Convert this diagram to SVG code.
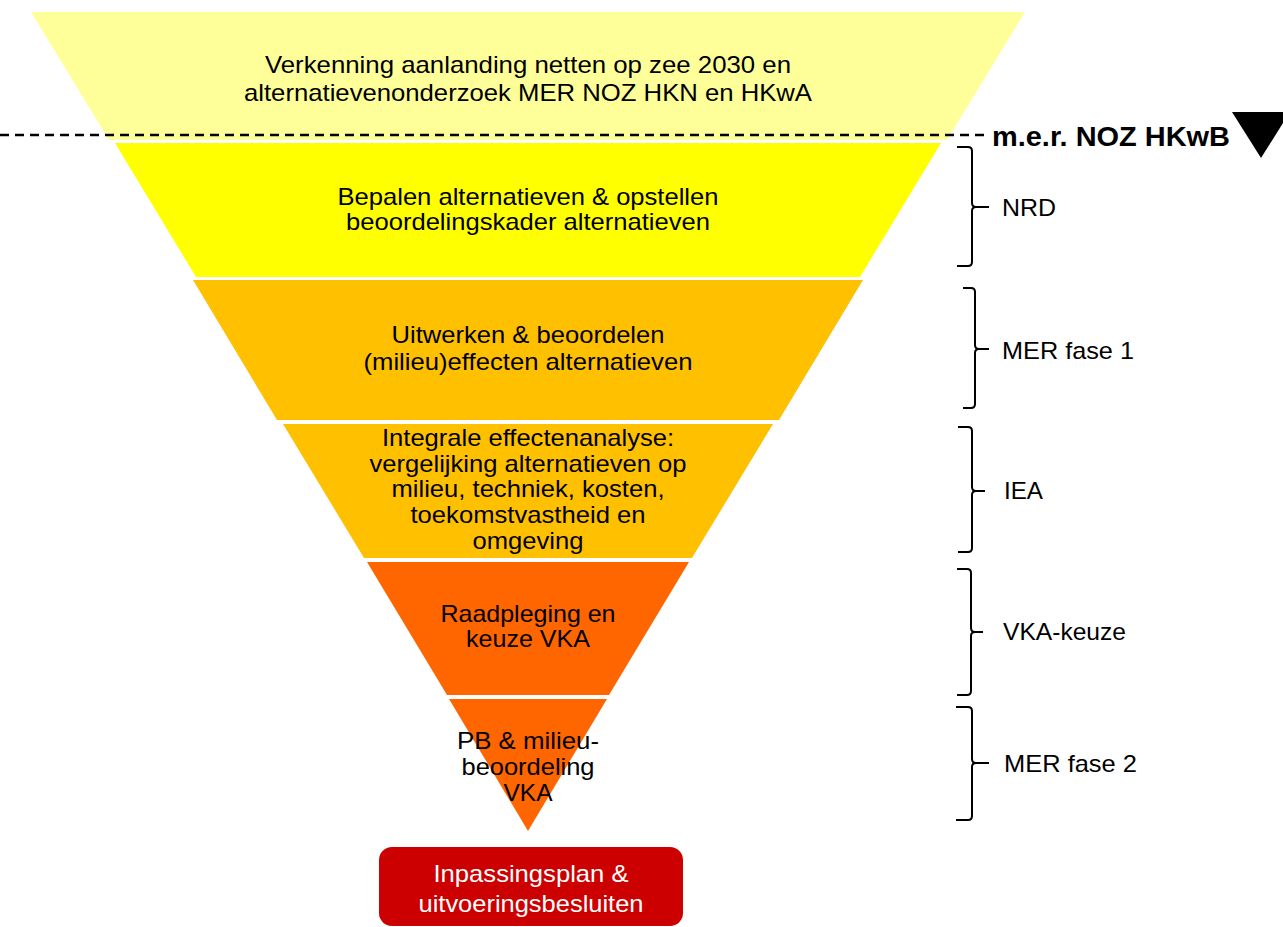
<svg xmlns="http://www.w3.org/2000/svg" width="1283" height="927" viewBox="0 0 1283 927">
<style>
.t{font-family:"Liberation Sans",Arial,sans-serif;font-size:24px;fill:#000;text-anchor:middle}
.l{font-family:"Liberation Sans",Arial,sans-serif;font-size:24px;fill:#000}
.w{font-family:"Liberation Sans",Arial,sans-serif;font-size:24px;fill:#fff;text-anchor:middle}
.b{fill:none;stroke:#000;stroke-width:2}
</style>
<rect width="1283" height="927" fill="#fff"/>
<g id="band-verkenning">
<polygon points="31,12 1025,12 947,140 109,140" fill="#FFFF99"/>
<text class="t" x="528" y="73" textLength="526" lengthAdjust="spacingAndGlyphs">Verkenning aanlanding netten op zee 2030 en</text>
<text class="t" x="528" y="101" textLength="568" lengthAdjust="spacingAndGlyphs">alternatievenonderzoek MER NOZ HKN en HKwA</text>
</g>
<g id="band-nrd">
<polygon points="115,143 941,143 860,277 196,277" fill="#FFFF00"/>
<text class="t" x="528" y="205" textLength="381" lengthAdjust="spacingAndGlyphs">Bepalen alternatieven &amp; opstellen</text>
<text class="t" x="528" y="230" textLength="364" lengthAdjust="spacingAndGlyphs">beoordelingskader alternatieven</text>
</g>
<g id="band-mer1">
<polygon points="193,280 863,280 779,420 277,420" fill="#FFC000"/>
<text class="t" x="528" y="343" textLength="273" lengthAdjust="spacingAndGlyphs">Uitwerken &amp; beoordelen</text>
<text class="t" x="528" y="370" textLength="329" lengthAdjust="spacingAndGlyphs">(milieu)effecten alternatieven</text>
</g>
<g id="band-iea">
<polygon points="283,424 773,424 692,558 364,558" fill="#FFC000"/>
<text class="t" x="528" y="446" textLength="292" lengthAdjust="spacingAndGlyphs">Integrale effectenanalyse:</text>
<text class="t" x="528" y="472" textLength="317" lengthAdjust="spacingAndGlyphs">vergelijking alternatieven op</text>
<text class="t" x="528" y="497" textLength="273" lengthAdjust="spacingAndGlyphs">milieu, techniek, kosten,</text>
<text class="t" x="528" y="523" textLength="235" lengthAdjust="spacingAndGlyphs">toekomstvastheid en</text>
<text class="t" x="528" y="549" textLength="111" lengthAdjust="spacingAndGlyphs">omgeving</text>
</g>
<g id="band-vka">
<polygon points="367,562 689,562 609,695 447,695" fill="#FF6600"/>
<text class="t" x="528" y="622" textLength="175" lengthAdjust="spacingAndGlyphs">Raadpleging en</text>
<text class="t" x="528" y="647" textLength="124" lengthAdjust="spacingAndGlyphs">keuze VKA</text>
</g>
<g id="band-mer2">
<polygon points="449,699 607,699 528,831" fill="#FF6600"/>
<text class="t" x="528" y="749" textLength="142" lengthAdjust="spacingAndGlyphs">PB &amp; milieu-</text>
<text class="t" x="528" y="775" textLength="133" lengthAdjust="spacingAndGlyphs">beoordeling</text>
<text class="t" x="528" y="801" textLength="49" lengthAdjust="spacingAndGlyphs">VKA</text>
</g>
<g id="besluit">
<rect x="379" y="847" width="304" height="79" rx="13" fill="#CC0000"/>
<text class="w" x="531" y="882" textLength="195" lengthAdjust="spacingAndGlyphs">Inpassingsplan &amp;</text>
<text class="w" x="531" y="912" textLength="225" lengthAdjust="spacingAndGlyphs">uitvoeringsbesluiten</text>
</g>
<g id="mer-marker">
<line x1="0" y1="135" x2="986" y2="135" stroke="#000" stroke-width="2.5" stroke-dasharray="9,6"/>
<text x="992" y="146" font-family="Liberation Sans, Arial, sans-serif" font-size="27" font-weight="bold" fill="#000" textLength="238" lengthAdjust="spacingAndGlyphs">m.e.r. NOZ HKwB</text>
<polygon points="1232,112 1290,112 1261,158" fill="#000"/>
</g>
<g id="brace-nrd">
<path class="b" d="M957,147 H968 Q972,147 972,151 V203 Q972,207 976,207 H989 M976,207 Q972,207 972,211 V262 Q972,266 968,266 H957"/>
<text class="l" x="1002" y="216" textLength="54" lengthAdjust="spacingAndGlyphs">NRD</text>
</g>
<g id="brace-mer1">
<path class="b" d="M963,288 H971 Q975,288 975,292 V345 Q975,349 979,349 H989 M979,349 Q975,349 975,353 V404 Q975,408 971,408 H963"/>
<text class="l" x="1002" y="359" textLength="132" lengthAdjust="spacingAndGlyphs">MER fase 1</text>
</g>
<g id="brace-iea">
<path class="b" d="M958,427 H968 Q972,427 972,431 V487 Q972,491 976,491 H985 M976,491 Q972,491 972,495 V548 Q972,552 968,552 H958"/>
<text class="l" x="1004" y="499" textLength="39" lengthAdjust="spacingAndGlyphs">IEA</text>
</g>
<g id="brace-vka">
<path class="b" d="M957,569 H967 Q971,569 971,573 V628 Q971,632 975,632 H983 M975,632 Q971,632 971,636 V691 Q971,695 967,695 H957"/>
<text class="l" x="1003" y="640" textLength="123" lengthAdjust="spacingAndGlyphs">VKA-keuze</text>
</g>
<g id="brace-mer2">
<path class="b" d="M956,707 H968 Q972,707 972,711 V759 Q972,763 976,763 H989 M976,763 Q972,763 972,767 V816 Q972,820 968,820 H956"/>
<text class="l" x="1004" y="772" textLength="133" lengthAdjust="spacingAndGlyphs">MER fase 2</text>
</g>
</svg>
